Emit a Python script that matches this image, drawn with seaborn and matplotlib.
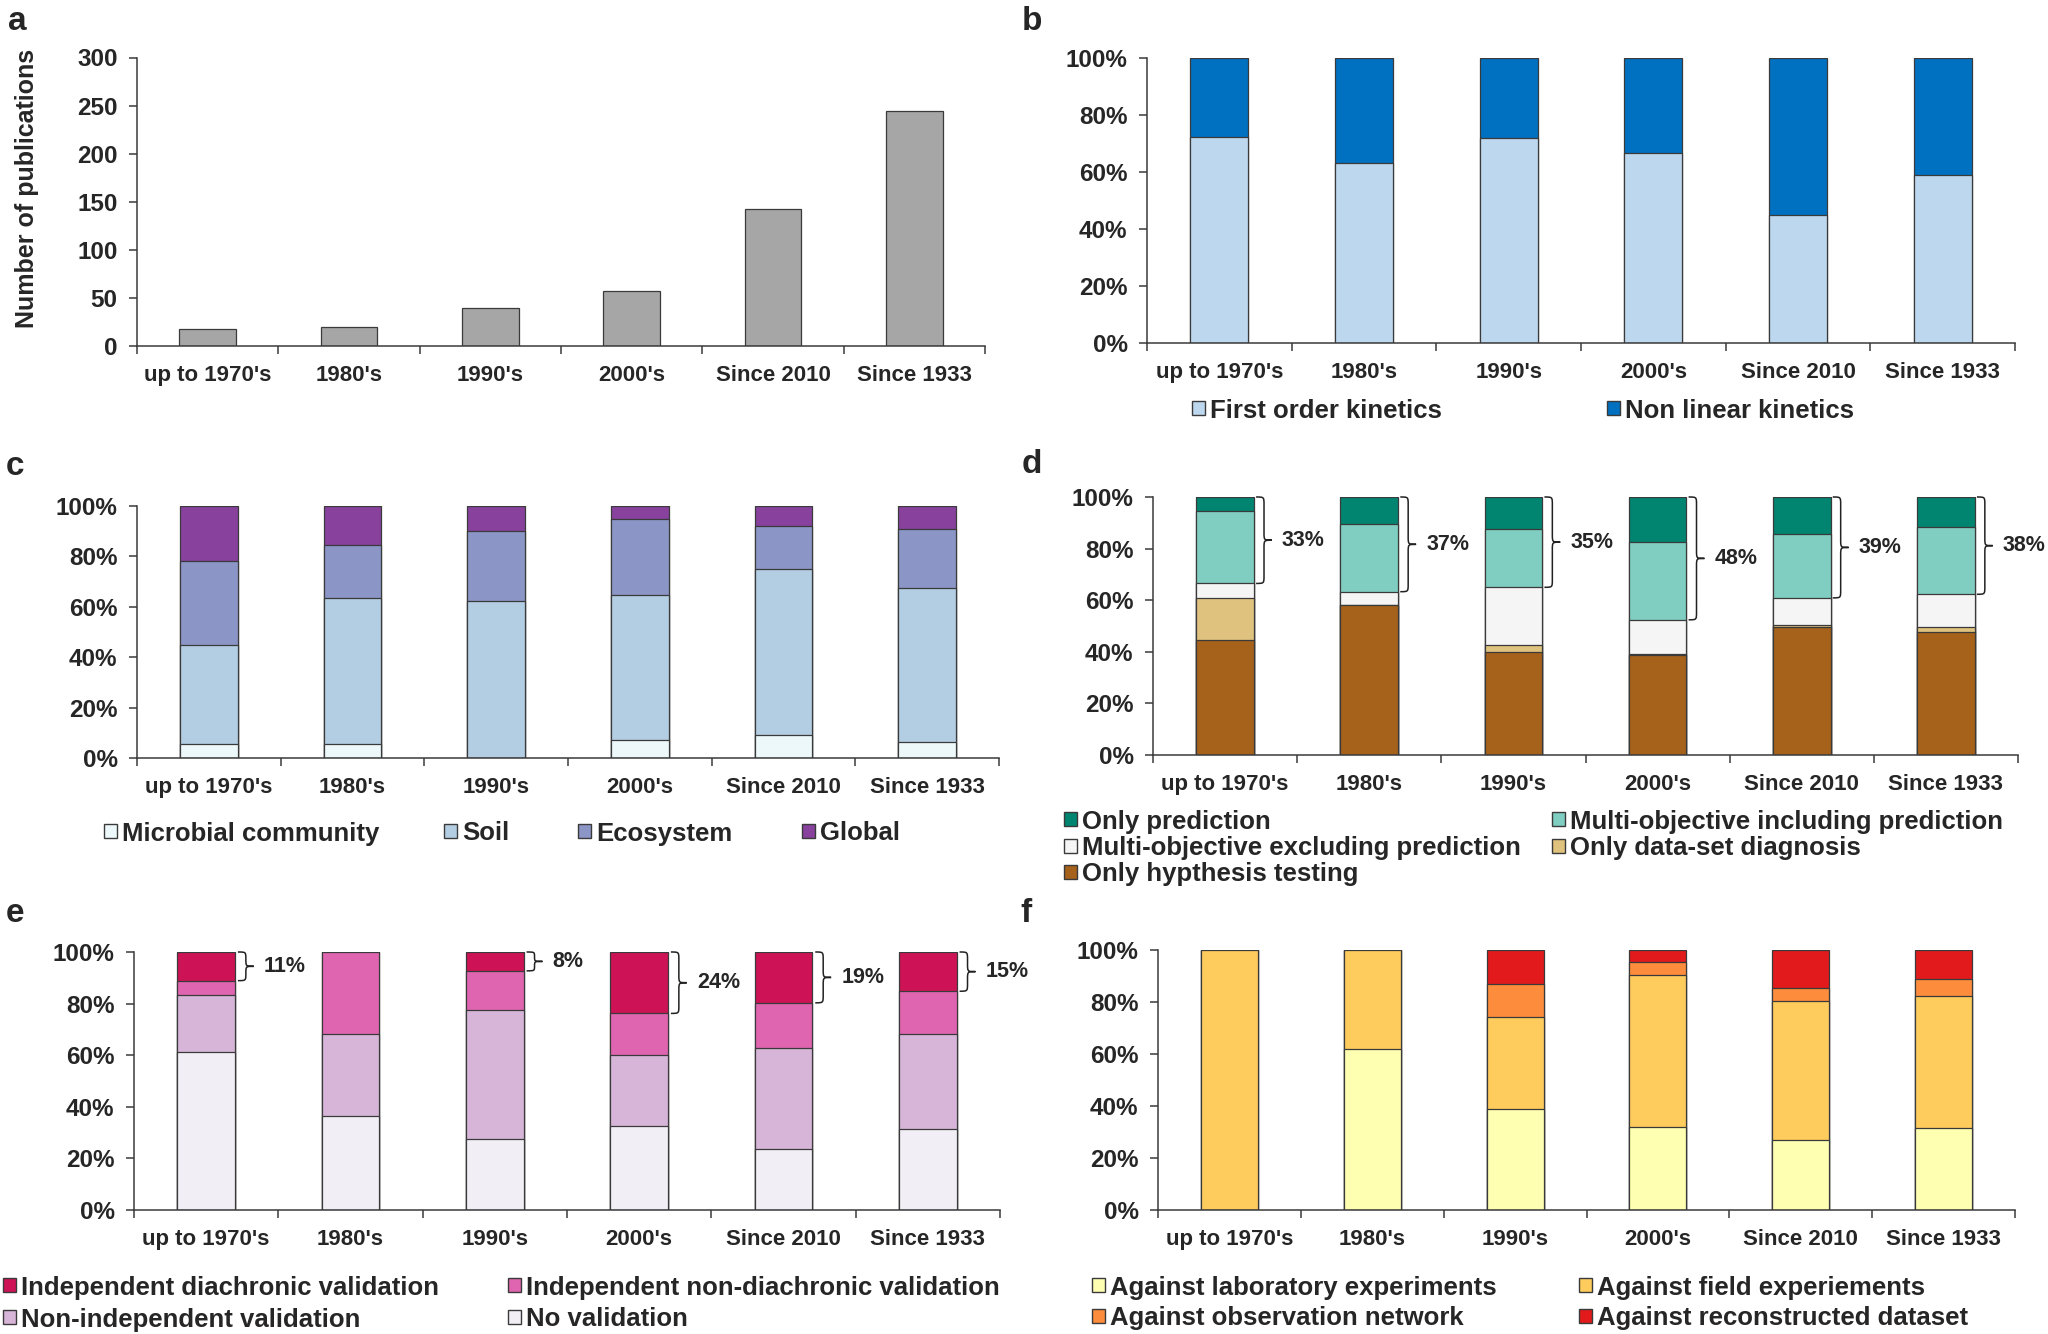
import matplotlib
matplotlib.use("Agg")
import matplotlib.pyplot as plt
from matplotlib.patches import Rectangle, PathPatch
from matplotlib.path import Path
from matplotlib.ticker import FuncFormatter
import seaborn as sns
import numpy as np

# ---- data ----
periods = ["up to 1970's", "1980's", "1990's", "2000's", "Since 2010", "Since 1933"]

# a: number of publications
n_pub = [18, 20, 40, 57, 142, 244]

# b: kinetics (%)
first_order = [72.3, 63.2, 72.0, 66.6, 44.8, 58.9]
non_linear = [27.7, 36.8, 28.0, 33.4, 55.2, 41.1]

# c: scale (%)
microbial = [5.7, 5.4, 0.0, 7.1, 9.2, 6.5]
soil = [39.0, 57.9, 62.5, 57.4, 65.9, 60.9]
ecosystem = [33.3, 21.1, 27.7, 30.2, 16.9, 23.5]
global_ = [22.0, 15.6, 9.8, 5.3, 8.0, 9.1]

# d: objectives (%)
hyp_testing = [44.4, 58.0, 39.9, 38.8, 49.5, 47.7]
diagnosis = [16.4, 0.3, 2.6, 0.3, 0.8, 1.8]
multi_excl = [5.7, 5.0, 22.5, 13.3, 10.6, 12.8]
multi_incl = [28.0, 26.4, 22.5, 30.2, 24.6, 26.1]
only_pred = [5.5, 10.3, 12.5, 17.4, 14.5, 11.6]
d_brace = ["33%", "37%", "35%", "48%", "39%", "38%"]

# e: validation (%)
no_val = [61.1, 36.6, 27.6, 32.7, 23.8, 31.3]
non_indep = [22.1, 31.8, 49.9, 27.4, 38.8, 36.9]
indep_nondia = [5.7, 31.6, 15.2, 16.1, 17.7, 16.6]
indep_dia = [11.1, 0.0, 7.3, 23.8, 19.7, 15.2]
e_brace = ["11%", None, "8%", "24%", "19%", "15%"]

# f: validation data (%)
lab_exp = [0.0, 61.8, 39.0, 32.1, 27.0, 31.7]
field_exp = [100.0, 38.2, 35.3, 58.2, 53.4, 50.5]
obs_net = [0.0, 0.0, 12.7, 5.0, 5.1, 6.8]
recon = [0.0, 0.0, 13.0, 4.7, 14.5, 11.0]

W, H = 2048, 1334
EDGE = "#3a3a3a"

sns.set_style("ticks")
plt.rcParams["font.family"] = ["Liberation Sans", "DejaVu Sans"]
plt.rcParams["font.weight"] = "bold"

fig = plt.figure(figsize=(W / 100, H / 100), dpi=100)


def add_ax(left, right, top, bottom):
    return fig.add_axes([left / W, 1 - bottom / H, (right - left) / W, (bottom - top) / H])


def style_ax(ax, ymax, step, pct=True):
    ax.set_xlim(-0.5, len(periods) - 0.5)
    ax.set_ylim(0, ymax)
    ax.set_yticks(np.arange(0, ymax + 1, step))
    if pct:
        ax.yaxis.set_major_formatter(FuncFormatter(lambda v, p: f"{int(v)}%"))
    ax.set_xticks(range(len(periods)))
    ax.set_xticklabels(periods)
    ax.set_xticks(np.arange(-0.5, len(periods)), minor=True)
    ax.tick_params(axis="x", which="major", length=0, pad=14, labelsize=16)
    ax.tick_params(axis="x", which="minor", length=6, width=1.1, color=EDGE, direction="out")
    ax.tick_params(axis="y", length=6, width=1.1, color=EDGE, pad=8, labelsize=17.5)
    for lab in ax.get_xticklabels() + ax.get_yticklabels():
        lab.set_fontweight("bold")
    sns.despine(ax=ax)
    for s in ["left", "bottom"]:
        ax.spines[s].set_color(EDGE)
        ax.spines[s].set_linewidth(1.1)
    ax.set_xlabel("")
    ax.set_ylabel("")


def stacked(ax, layers, colors):
    # draw cumulative totals from top to bottom so lower layers overlay
    cum = np.cumsum(np.array(layers), axis=0)
    for i in range(len(layers) - 1, -1, -1):
        sns.barplot(x=periods, y=cum[i], color=colors[i], width=0.4, saturation=1,
                    edgecolor=EDGE, linewidth=0.9, ax=ax)


def brace(ax, x0, y0, y1, label, w=0.11):
    d = min(3.0, (y1 - y0) / 4)
    ym = (y0 + y1) / 2
    xm = x0 + w / 2
    verts = [(x0, y1), (xm, y1), (xm, y1), (xm, y1 - d),
             (xm, ym + d), (xm, ym), (xm, ym), (x0 + w, ym),
             (xm, ym), (xm, ym), (xm, ym - d),
             (xm, y0 + d), (xm, y0), (xm, y0), (x0, y0)]
    codes = [Path.MOVETO, Path.CURVE4, Path.CURVE4, Path.CURVE4,
             Path.LINETO, Path.CURVE4, Path.CURVE4, Path.CURVE4,
             Path.CURVE4, Path.CURVE4, Path.CURVE4,
             Path.LINETO, Path.CURVE4, Path.CURVE4, Path.CURVE4]
    ax.add_patch(PathPatch(Path(verts, codes), fill=False, lw=1.1, ec="#222222", clip_on=False))
    ax.text(x0 + w + 0.07, ym, label, ha="left", va="center", fontsize=15.5,
            fontweight="bold", clip_on=False)


def legend_item(x, y, color, label):
    fig.add_artist(Rectangle((x / W, 1 - (y + 7) / H), 13 / W, 14 / H, transform=fig.transFigure,
                             facecolor=color, edgecolor=EDGE, linewidth=1.0))
    fig.text((x + 18) / W, 1 - y / H, label, ha="left", va="center_baseline",
             fontsize=18.5, fontweight="bold")


def panel_letter(x, y, s):
    fig.text(x / W, 1 - y / H, s, ha="left", va="baseline", fontsize=24, fontweight="bold")


# ---- a ----
ax_a = add_ax(137, 985, 57.5, 346)
sns.barplot(x=periods, y=n_pub, color="#a6a6a6", width=0.4, saturation=1,
            edgecolor=EDGE, linewidth=0.9, ax=ax_a)
style_ax(ax_a, 300, 50, pct=False)
fig.text(27 / W, 1 - 188 / H, "Number of publications", rotation=90, ha="center", va="center",
         fontsize=18, fontweight="bold")
panel_letter(8, 30, "a")

# ---- b ----
ax_b = add_ax(1147, 2015, 58, 343)
b_colors = ["#bdd7ee", "#0070c0"]
stacked(ax_b, [first_order, non_linear], b_colors)
style_ax(ax_b, 100, 20)
panel_letter(1022, 30, "b")
legend_item(1192, 408, b_colors[0], "First order kinetics")
legend_item(1607, 408, b_colors[1], "Non linear kinetics")

# ---- c ----
ax_c = add_ax(137, 999, 506, 758)
c_colors = ["#edf8fb", "#b3cde3", "#8c96c6", "#88419d"]
stacked(ax_c, [microbial, soil, ecosystem, global_], c_colors)
style_ax(ax_c, 100, 20)
panel_letter(6, 475, "c")
for x, col, lab in zip([104, 444, 578, 802], c_colors,
                       ["Microbial community", "Soil", "Ecosystem", "Global"]):
    legend_item(x, 831, col, lab)

# ---- d ----
ax_d = add_ax(1153, 2018, 497, 755)
d_colors = ["#a6611a", "#dfc27d", "#f5f5f5", "#80cdc1", "#018571"]
d_layers = [hyp_testing, diagnosis, multi_excl, multi_incl, only_pred]
stacked(ax_d, d_layers, d_colors)
style_ax(ax_d, 100, 20)
d_low = np.cumsum(np.array(d_layers), axis=0)[2]
for i, lab in enumerate(d_brace):
    brace(ax_d, i + 0.215, d_low[i], 100, lab)
panel_letter(1022, 473, "d")
legend_item(1064, 819, d_colors[4], "Only prediction")
legend_item(1552, 819, d_colors[3], "Multi-objective including prediction")
legend_item(1064, 846, d_colors[2], "Multi-objective excluding prediction")
legend_item(1552, 846, d_colors[1], "Only data-set diagnosis")
legend_item(1064, 872, d_colors[0], "Only hypthesis testing")

# ---- e ----
ax_e = add_ax(134, 1000, 952, 1210)
e_colors = ["#f1eef6", "#d7b5d8", "#df65b0", "#ce1256"]
e_layers = [no_val, non_indep, indep_nondia, indep_dia]
stacked(ax_e, e_layers, e_colors)
style_ax(ax_e, 100, 20)
e_low = np.cumsum(np.array(e_layers), axis=0)[2]
for i, lab in enumerate(e_brace):
    if lab:
        brace(ax_e, i + 0.22, e_low[i], 100, lab)
panel_letter(6, 922, "e")
legend_item(3, 1285, e_colors[3], "Independent diachronic validation")
legend_item(508, 1285, e_colors[2], "Independent non-diachronic validation")
legend_item(3, 1317, e_colors[1], "Non-independent validation")
legend_item(508, 1317, e_colors[0], "No validation")

# ---- f ----
ax_f = add_ax(1158, 2015, 950, 1210)
f_colors = ["#ffffb2", "#fecc5c", "#fd8d3c", "#e31a1c"]
stacked(ax_f, [lab_exp, field_exp, obs_net, recon], f_colors)
style_ax(ax_f, 100, 20)
panel_letter(1020, 922, "f")
legend_item(1092, 1285, f_colors[0], "Against laboratory experiments")
legend_item(1579, 1285, f_colors[1], "Against field experiements")
legend_item(1092, 1316, f_colors[2], "Against observation network")
legend_item(1579, 1316, f_colors[3], "Against reconstructed dataset")

fig.savefig("out.png", dpi=100)
